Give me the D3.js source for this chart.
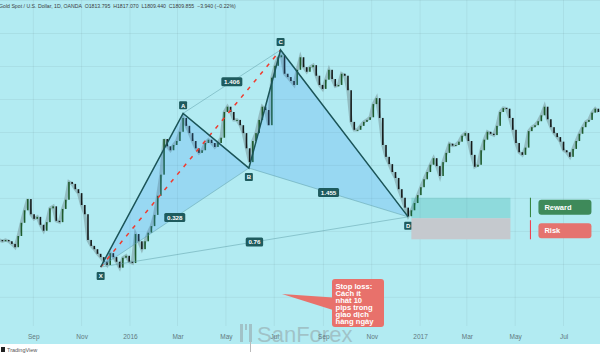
<!DOCTYPE html>
<meta charset="utf-8">
<style>
body { margin: 0; background: #fff; }
svg { display: block; font-family: "Liberation Sans", Arial, sans-serif; }
.grid line { stroke: #000; stroke-opacity: 0.05; }
.xaxis text { fill: #62797e; font-size: 6.5px; }
</style>
<svg width="600" height="355"></svg>
<script src="https://d3js.org/d3.v7.min.js"></script>
<script>
// daily gold closes, one value every 4 days
var startDate = "2015-07-20";
var stepDays = 4;
var closes = [
  1087,1085,1087,1085,1081,1076,1093,1113,1132,1149,
  1126,1119,1122,1110,1101,1114,1135,1138,1116,1114,
  1134,1148,1175,1172,1164,1158,1140,1126,1087,1078,
  1073,1066,1061,1054,1049,1067,1061,1054,1045,1060,
  1063,1054,1052,1096,1085,1073,1085,1098,1108,1125,
  1154,1186,1240,1229,1223,1231,1237,1251,1272,1260,
  1249,1237,1226,1219,1223,1234,1239,1234,1228,1234,
  1242,1281,1289,1281,1269,1269,1261,1249,1226,1205,
  1237,1249,1269,1289,1284,1261,1333,1351,1364,1367,
  1339,1334,1328,1322,1345,1364,1349,1342,1349,1352,
  1336,1322,1316,1330,1345,1331,1320,1322,1339,1336,
  1314,1266,1254,1254,1260,1266,1269,1273,1293,1302,
  1272,1231,1213,1202,1190,1181,1164,1151,1136,1123,
  1132,1143,1155,1167,1179,1190,1201,1211,1199,1184,
  1205,1219,1233,1230,1231,1236,1245,1249,1237,1216,
  1198,1201,1223,1239,1251,1248,1246,1260,1281,1287,
  1286,1272,1254,1234,1220,1216,1227,1252,1258,1261,
  1267,1276,1289,1270,1258,1249,1243,1236,1223,1220,
  1213,1225,1237,1248,1258,1266,1269,1280,1286,1281
];

// XABCD pattern
var pointNames  = ["X", "A", "B", "C", "D"];
var pointDates  = ["2015-11-25", "2016-03-08", "2016-05-30", "2016-07-09", "2016-12-17"];
var pointPrices = [1046, 1279, 1196, 1375, 1122];
var ratioLabels = ["0.328", "1.406", "1.455", "0.76"];
var ratioPairs  = [[0, 2], [1, 3], [2, 4], [0, 4]];

// long position
var positionDates = ["2016-12-21", "2017-04-25"];
var entryPrice = 1120, targetPrice = 1151, stopPrice = 1088;

var header = "Gold Spot / U.S. Dollar, 1D, OANDA  O1813.795  H1817.070  L1809.440  C1809.855  \u22123.940 (\u22120.22%)";
var stopLines = ["Stop loss:", "Cách ít", "nhất 10", "pips trong", "giao dịch", "hàng ngày"];

var parse = d3.timeParse("%Y-%m-%d");
var svg = d3.select("svg");

var xScale = d3.scaleTime()
    .domain([parse("2015-07-21"), parse("2017-08-16")])
    .range([0, 600]);
var yScale = d3.scaleLinear()
    .domain([1046, 1375])
    .range([267, 50]);

var t0 = parse(startDate);
var data = closes.map(function(c, i) {
    return { date: d3.timeDay.offset(t0, i * stepDays), open: i ? closes[i - 1] : c, close: c };
});
var pts = pointNames.map(function(n, i) {
    return { name: n, x: xScale(parse(pointDates[i])), y: yScale(pointPrices[i]) };
});

// background
svg.append("rect").attr("width", 600).attr("height", 344).attr("fill", "#b2ebf2");

// grid
var ticks = xScale.ticks(d3.timeMonth.every(2));
var grid = svg.append("g").attr("class", "grid");
grid.selectAll(".v").data(ticks).enter().append("line")
    .attr("x1", function(d) { return xScale(d); }).attr("x2", function(d) { return xScale(d); })
    .attr("y1", 0).attr("y2", 326);
grid.selectAll(".h").data(d3.range(1000, 1451, 50)).enter().append("line")
    .attr("x1", 0).attr("x2", 600)
    .attr("y1", function(d) { return yScale(d); }).attr("y2", function(d) { return yScale(d); });

// header
svg.append("text").attr("x", -1).attr("y", 8)
    .attr("font-size", 5.2).attr("fill", "#3d3d3d").attr("xml:space", "preserve")
    .text(header);

// price series
var line = d3.line().x(function(d) { return xScale(d.date); }).y(function(d) { return yScale(d.close); });
svg.append("path").datum(data).attr("d", line)
    .attr("fill", "none").attr("stroke", "#6c8487").attr("stroke-opacity", 0.45).attr("stroke-width", 3.2);
svg.append("g").selectAll("rect").data(data).enter().append("rect")
    .attr("x", function(d) { return xScale(d.date) - 0.8; })
    .attr("width", 1.6)
    .attr("y", function(d) { return yScale(Math.max(d.open, d.close)); })
    .attr("height", function(d) { return Math.max(1, Math.abs(yScale(d.open) - yScale(d.close))); })
    .attr("fill", function(d) { return d.close >= d.open ? "#1d5a2c" : "#151a1a"; });

// pattern
var poly = function(a) { return a.map(function(i) { return pts[i].x + "," + pts[i].y; }).join(" "); };
svg.append("polygon").attr("points", poly([0, 1, 2])).attr("fill", "rgba(60,150,240,0.22)");
svg.append("polygon").attr("points", poly([2, 3, 4])).attr("fill", "rgba(60,150,240,0.22)");

ratioPairs.forEach(function(p) {
    svg.append("line")
        .attr("x1", pts[p[0]].x).attr("y1", pts[p[0]].y)
        .attr("x2", pts[p[1]].x).attr("y2", pts[p[1]].y)
        .attr("stroke", "#5d9ea8").attr("stroke-opacity", 0.5).attr("stroke-width", 1);
});
svg.append("line")
    .attr("x1", pts[0].x).attr("y1", pts[0].y).attr("x2", pts[3].x).attr("y2", pts[3].y)
    .attr("stroke", "#f03a2e").attr("stroke-width", 1.5).attr("stroke-dasharray", "4,6");
svg.append("path")
    .attr("d", "M" + pts.map(function(p) { return p.x + "," + p.y; }).join("L"))
    .attr("fill", "none").attr("stroke", "#1b5457").attr("stroke-width", 1.5);

// ratio labels
ratioPairs.forEach(function(p, i) {
    var mx = (pts[p[0]].x + pts[p[1]].x) / 2, my = (pts[p[0]].y + pts[p[1]].y) / 2;
    var w = ratioLabels[i].length * 3.6 + 3;
    svg.append("rect").attr("x", mx - w / 2).attr("y", my - 4.5).attr("width", w).attr("height", 9)
        .attr("rx", 1.5).attr("fill", "#1e5b5e");
    svg.append("text").attr("x", mx).attr("y", my + 2.2).attr("text-anchor", "middle")
        .attr("font-size", 6.2).attr("font-weight", "bold").attr("fill", "#fff").text(ratioLabels[i]);
});

// point labels
pts.forEach(function(p, i) {
    var up = i % 2 === 1;
    var cy = p.y + (up ? -8 : 9);
    svg.append("rect").attr("x", p.x - 4).attr("y", cy - 4).attr("width", 8).attr("height", 8)
        .attr("rx", 1).attr("fill", "#1e5b5e");
    svg.append("text").attr("x", p.x).attr("y", cy + 2.2).attr("text-anchor", "middle")
        .attr("font-size", 6).attr("font-weight", "bold").attr("fill", "#fff").text(p.name);
});

// long position
var px0 = xScale(parse(positionDates[0])), px1 = xScale(parse(positionDates[1]));
svg.append("rect").attr("x", px0).attr("width", px1 - px0)
    .attr("y", yScale(targetPrice)).attr("height", yScale(entryPrice) - yScale(targetPrice))
    .attr("fill", "rgba(0,150,136,0.2)");
svg.append("rect").attr("x", px0).attr("width", px1 - px0)
    .attr("y", yScale(entryPrice)).attr("height", yScale(stopPrice) - yScale(entryPrice))
    .attr("fill", "#c5c9ce");
var bx = px1 + 20;
svg.append("line").attr("x1", bx).attr("x2", bx).attr("y1", yScale(targetPrice)).attr("y2", yScale(entryPrice) - 1)
    .attr("stroke", "#2e7d32").attr("stroke-width", 1);
svg.append("line").attr("x1", bx).attr("x2", bx).attr("y1", yScale(entryPrice) + 2).attr("y2", yScale(stopPrice))
    .attr("stroke", "#f23645").attr("stroke-width", 1);
[["Reward", "#3e8a5a", yScale(targetPrice) + 2], ["Risk", "#e5736f", yScale(entryPrice) + 5]].forEach(function(b) {
    svg.append("rect").attr("x", bx + 8).attr("y", b[2]).attr("width", 53).attr("height", 15)
        .attr("rx", 3).attr("fill", b[1]);
    svg.append("text").attr("x", bx + 14).attr("y", b[2] + 10.3)
        .attr("font-size", 7.5).attr("font-weight", "bold").attr("fill", "#fff").text(b[0]);
});

// watermark
var wm = svg.append("g").attr("fill", "#8f9a9c").attr("fill-opacity", 0.5);
wm.append("rect").attr("x", 240).attr("y", 324).attr("width", 3).attr("height", 18);
wm.append("rect").attr("x", 245).attr("y", 324).attr("width", 2).attr("height", 6);
wm.append("rect").attr("x", 249).attr("y", 324).attr("width", 3).attr("height", 18);
wm.append("text").attr("x", 257).attr("y", 342).attr("font-size", 22).text("SanForex");

// x axis
svg.append("g").attr("class", "xaxis").attr("transform", "translate(0,331)")
    .call(d3.axisBottom(xScale).tickValues(ticks).tickSize(0)
        .tickFormat(function(d) { return d.getMonth() === 0 ? d3.timeFormat("%Y")(d) : d3.timeFormat("%b")(d); }))
    .call(function(g) { g.select(".domain").remove(); g.selectAll("text").attr("font-family", null); });

// stop loss callout
svg.append("path").attr("d", "M282,294L333,297.5L333,310Z").attr("fill", "#e8716b");
svg.append("rect").attr("x", 332).attr("y", 279).attr("width", 52).attr("height", 48).attr("rx", 3).attr("fill", "#e8716b");
svg.append("g").selectAll("text").data(stopLines).enter().append("text")
    .attr("x", 335.5).attr("y", function(d, i) { return 288.5 + i * 7; })
    .attr("font-size", 7.6).attr("font-weight", "bold").attr("fill", "#fff")
    .text(function(d) { return d; });

// footer
svg.append("rect").attr("y", 344).attr("width", 600).attr("height", 11).attr("fill", "#fff");
svg.append("line").attr("x1", 250.5).attr("x2", 250.5).attr("y1", 342).attr("y2", 352)
    .attr("stroke", "#bbb").attr("stroke-width", 1);
svg.append("rect").attr("x", 1).attr("y", 347).attr("width", 4).attr("height", 5).attr("fill", "#222");
svg.append("text").attr("x", 7).attr("y", 352).attr("font-size", 5.5).attr("fill", "#555").text("TradingView");
</script>
